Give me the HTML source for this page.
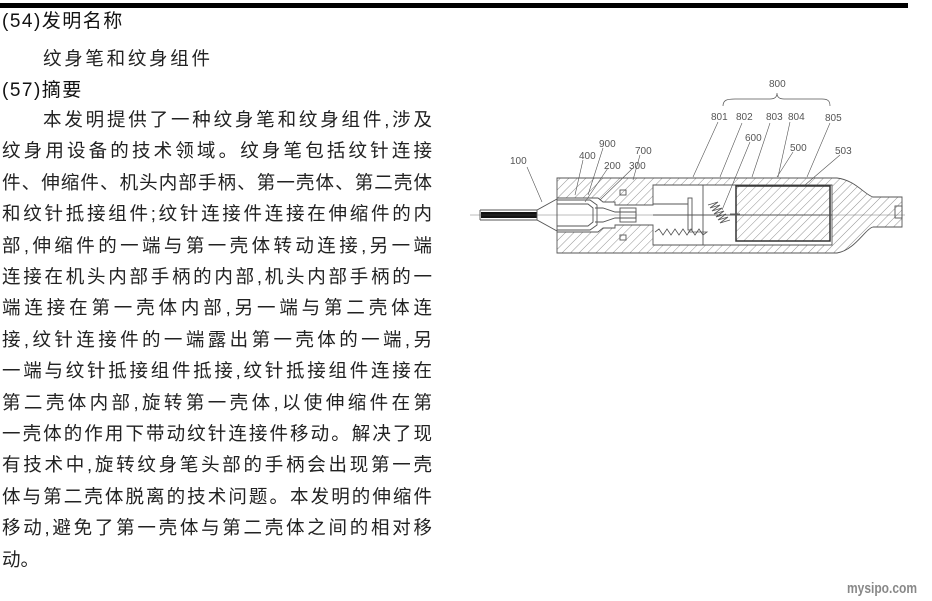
<!DOCTYPE html>
<html><head><meta charset="utf-8"><style>
html,body{margin:0;padding:0;background:#fff;}
body{width:932px;height:601px;position:relative;overflow:hidden;font-family:"Liberation Sans","Noto Sans CJK SC",sans-serif;}
.bar{position:absolute;left:0;top:3px;width:908px;height:5px;background:#000;}
.t{position:absolute;left:2px;font-size:19px;color:#111;white-space:nowrap;line-height:20px;letter-spacing:1.5px;}
.b{position:absolute;left:2px;width:430px;font-size:18.5px;color:#222;white-space:nowrap;line-height:20px;text-align:justify;text-align-last:justify;text-justify:inter-character;}
.wm{position:absolute;left:847px;top:580px;font-size:15px;font-weight:bold;color:#888;transform:scaleX(0.8);transform-origin:left;font-family:"Liberation Sans Narrow","Liberation Sans",sans-serif;}
svg{position:absolute;left:0;top:0;}
svg text{font-family:"Liberation Sans",sans-serif;font-size:10px;fill:#555;}
</style></head><body>
<div class="bar"></div>
<div class="t" style="top:12px">(54)发明名称</div>
<div class="b" style="top:49px;left:43px;width:167px">纹身笔和纹身组件</div>
<div class="t" style="top:81px">(57)摘要</div>
<div class="b" style="top:110px;left:43px;width:389px">本发明提供了一种纹身笔和纹身组件,涉及</div>
<div class="b" style="top:141px">纹身用设备的技术领域。纹身笔包括纹针连接</div>
<div class="b" style="top:173px">件、伸缩件、机头内部手柄、第一壳体、第二壳体</div>
<div class="b" style="top:204px">和纹针抵接组件;纹针连接件连接在伸缩件的内</div>
<div class="b" style="top:236px">部,伸缩件的一端与第一壳体转动连接,另一端</div>
<div class="b" style="top:267px">连接在机头内部手柄的内部,机头内部手柄的一</div>
<div class="b" style="top:298px">端连接在第一壳体内部,另一端与第二壳体连</div>
<div class="b" style="top:330px">接,纹针连接件的一端露出第一壳体的一端,另</div>
<div class="b" style="top:361px">一端与纹针抵接组件抵接,纹针抵接组件连接在</div>
<div class="b" style="top:393px">第二壳体内部,旋转第一壳体,以使伸缩件在第</div>
<div class="b" style="top:424px">一壳体的作用下带动纹针连接件移动。解决了现</div>
<div class="b" style="top:455px">有技术中,旋转纹身笔头部的手柄会出现第一壳</div>
<div class="b" style="top:487px">体与第二壳体脱离的技术问题。本发明的伸缩件</div>
<div class="b" style="top:518px">移动,避免了第一壳体与第二壳体之间的相对移</div>
<div class="b" style="top:550px;width:auto;text-align:left;text-align-last:left">动。</div>
<div class="wm">mysipo.com</div>
<svg width="932" height="601" viewBox="0 0 932 601">
<defs>
<pattern id="h" width="6" height="6" patternUnits="userSpaceOnUse" patternTransform="rotate(45)">
<line x1="0" y1="0" x2="0" y2="6" stroke="#777" stroke-width="0.8"/>
</pattern>
</defs>
<g stroke="#555" stroke-width="0.9" fill="none">
<path fill="url(#h)" fill-rule="evenodd" d="M557,178 L837,178 C855,180 865,195 873,197 L902,197 L902,227 L873,227 C865,229 855,250 837,253 L557,253 Z
M557,198 L598,198 L603,202 L615,202 L615,205 L653,205 L653,185 L832,185 L832,245 L653,245 L653,225 L615,225 L615,228 L603,228 L598,232 L557,232 Z"/>
<rect x="895" y="206" width="7" height="12"/>
<rect x="736" y="186" width="94" height="55" fill="url(#h)" stroke="#333" stroke-width="1.5"/>
<line x1="703" y1="185" x2="703" y2="245"/>
<line x1="653" y1="215" x2="832" y2="215"/>
<path d="M557,200 L590,200 L597,205 L597,225 L590,230 L557,230"/>
<path d="M557,204 L588,204 L593,208 L593,222 L588,226 L557,226"/>
<path d="M595,208 L603,208 L615,212 L636,212 L636,218 L615,218 L603,222 L595,222"/>
<rect x="620" y="208" width="16" height="14"/>
<rect x="688" y="198" width="4" height="32"/>
<line x1="653" y1="204" x2="688" y2="204"/>
<path d="M655,232 l4,-3 l4,6 l4,-6 l4,6 l4,-6 l4,6 l4,-6 l4,6 l4,-6 l4,6 l4,-6 l4,6 l4,-3 L688,232" stroke-width="0.8"/>
<path d="M708,205 l10,-3 l-8,6 l10,-3 l-8,6 l10,-3 l-8,6 l10,-3 l-8,6 l10,-3 l-8,6 l10,-3 l-8,6 l10,-3" stroke-width="0.8"/>
<line x1="730" y1="214" x2="740" y2="214"/>
<rect x="620" y="190" width="6" height="5"/><rect x="620" y="235" width="6" height="5"/>
<path d="M480,210 L537,210 L557,199 M480,220 L537,220 L557,231 M480,210 L480,220"/>
<rect x="481" y="212" width="56" height="6" fill="#111" stroke="none"/>
<line x1="537" y1="210" x2="537" y2="220"/>
<line x1="470" y1="215" x2="905" y2="215" stroke-width="0.4"/>
<path d="M718,122 L693,177 M742,123 L720,177 M770,123 L752,177 M790,122 L778,177 M830,123 L807,177 M750,142 L722,210 M793,152 L777,177 M840,155 L805,185 M640,155 L633,180 M603,148 L588,195 M583,160 L575,195 M608,168 L585,202 M633,168 L600,200 M527,167 L542,202" stroke-width="0.6"/>
<path d="M723,106 C723,100 727,99 735,99 L770,99 C775,99 777,97 777,93 C777,97 779,99 784,99 L822,99 C828,99 830,101 830,106" stroke-width="0.7"/>
</g>
<text x="769" y="87">800</text>
<text x="711" y="120">801</text><text x="736" y="120">802</text><text x="766" y="120">803</text><text x="788" y="120">804</text><text x="825" y="121">805</text>
<text x="745" y="141">600</text><text x="790" y="151">500</text><text x="835" y="154">503</text>
<text x="635" y="154">700</text><text x="599" y="147">900</text><text x="579" y="159">400</text>
<text x="604" y="169">200</text><text x="629" y="169">300</text><text x="510" y="164">100</text>
</svg>
</body></html>
